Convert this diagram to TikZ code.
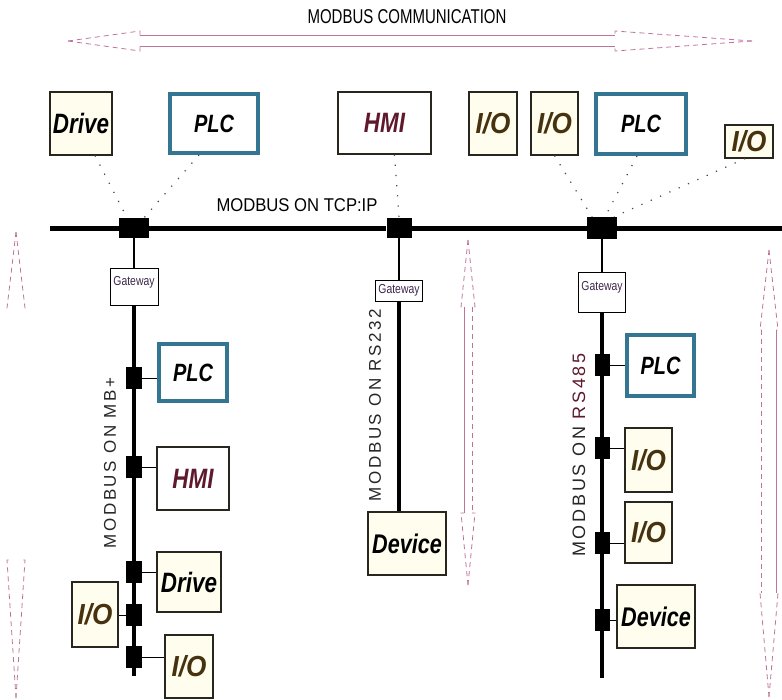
\documentclass[tikz,border=0pt]{standalone}
\usepackage{fontspec}
\setmainfont{Liberation Sans}
\newfontfamily\cond[FakeStretch=0.8]{Liberation Sans}
\newfontfamily\condw[FakeStretch=0.9]{Liberation Sans}
\newfontfamily\titlef[FakeStretch=0.75]{Liberation Sans}
\newfontfamily\semi[FakeStretch=0.9]{Liberation Sans}
\newfontfamily\spaced[LetterSpace=15]{Liberation Sans}
\definecolor{plcblue}{RGB}{52,118,145}
\definecolor{cream}{RGB}{255,253,238}
\definecolor{boxline}{RGB}{40,38,30}
\definecolor{hmitext}{RGB}{95,25,45}
\definecolor{iotext}{RGB}{70,50,15}
\definecolor{gwtext}{RGB}{60,40,75}
\definecolor{arrc}{RGB}{190,115,155}
% heads of a vertical double arrow
\newcommand\vheads[7]{%
 \draw[arrd] (#1,#2) -- (#1-#6,#3) -- (#1-#7,#3);
 \draw[arrd] (#1,#2) -- (#1+#6,#3) -- (#1+#7,#3);
 \draw[arrd] (#1,#5) -- (#1-#6,#4) -- (#1-#7,#4);
 \draw[arrd] (#1,#5) -- (#1+#6,#4) -- (#1+#7,#4);
}
% vertical double arrow, solid shaft line on side #8 (-1 left, 1 right)
\newcommand\vdblarrow[8]{%
 \vheads{#1}{#2}{#3}{#4}{#5}{#6}{#7}
 \draw[arr] (#1+#8*#7,#3) -- (#1+#8*#7,#4);
 \draw[arrd] (#1-#8*#7,#3) -- (#1-#8*#7,#4);
}
\newcommand\hdblarrow[7]{%
 \draw[arrd] (#2,#1) -- (#3,#1-#6) -- (#3,#1-#7);
 \draw[arrd] (#2,#1) -- (#3,#1+#6) -- (#3,#1+#7);
 \draw[arr] (#3,#1-#7) -- (#4,#1-#7);
 \draw[arr] (#3,#1+#7) -- (#4,#1+#7);
 \draw[arrd] (#5,#1) -- (#4,#1-#6) -- (#4,#1-#7);
 \draw[arrd] (#5,#1) -- (#4,#1+#6) -- (#4,#1+#7);
}
\tikzset{
 box/.style={draw=boxline, line width=1.1pt, fill=cream, inner sep=0pt,
   font=\cond\fontsize{28}{30}\selectfont\bfseries\itshape},
 plcbox/.style={draw=plcblue, line width=4pt, fill=white, inner sep=0pt,
   font=\cond\fontsize{25}{27}\selectfont\bfseries\itshape},
 hmibox/.style={box, fill=white, text=hmitext},
 iobox/.style={box, text=iotext, font=\condw\fontsize{29}{31}\selectfont\bfseries\itshape},
 devbox/.style={box, font=\cond\fontsize{27}{29}\selectfont\bfseries\itshape},
 gwbox/.style={draw=black, line width=0.9pt, fill=white, inner sep=0pt, text=gwtext,
   font=\cond\fontsize{13}{14}\selectfont},
 sw/.style={fill=black, draw=none, inner sep=0pt, minimum width=30pt, minimum height=20pt},
 tap/.style={fill=black, draw=none, inner sep=0pt, minimum width=16pt, minimum height=22pt},
 bus/.style={line width=5pt},
 fieldbus/.style={line width=4pt},
 drop/.style={line width=1.3pt},
 stub/.style={line width=1pt},
 dotline/.style={line width=1.2pt, gray!55!black, dash pattern=on 1.2pt off 9pt},
 arr/.style={draw=arrc, line width=0.8pt},
 arrd/.style={arr, dash pattern=on 5pt off 4pt},
 vlabel/.style={rotate=90, font=\spaced\fontsize{17}{18}\selectfont, text=black!85},
}
\begin{document}
\begin{tikzpicture}[x=1pt, y=-1pt]
\useasboundingbox (0,0) rectangle (782,699);

% title and communication arrow
\node[font=\titlef\fontsize{20}{22}\selectfont] (title) at (407,17) {MODBUS COMMUNICATION};
\hdblarrow{41}{68}{140}{615}{752}{10}{5.5}

% top devices
\node[box, minimum width=62, minimum height=63] (drive1) at (81,123.5) {Drive};
\node[plcbox, minimum width=88, minimum height=59] (plc1) at (214,123.5) {PLC};
\node[hmibox, minimum width=93, minimum height=62] (hmi1) at (384.5,123) {HMI};
\node[iobox, minimum width=48, minimum height=63] (io1) at (493,123.5) {I/O};
\node[iobox, minimum width=47, minimum height=63] (io2) at (554.5,123.5) {I/O};
\node[plcbox, minimum width=90, minimum height=60] (plc2) at (641,124) {PLC};
\node[iobox, minimum width=48, minimum height=33] (io3) at (749,141.5) {I/O};

% TCP/IP backbone
\node[sw] (sw1) at (134,228) {};
\node[sw, minimum width=25] (sw2) at (399,228) {};
\node[sw, minimum height=22] (sw3) at (602,228) {};
\coordinate (busL) at (50,228);
\coordinate (busR) at (782,228);
\draw[bus] (busL) -- (sw1) -- (sw2) -- (sw3) -- (busR);
\node[font=\semi\fontsize{18.5}{20}\selectfont] (tcp) at (297,205) {MODBUS ON TCP:IP};

% dotted links to backbone
\draw[dotline] ([xshift=14pt]drive1.south) -- ([xshift=-7pt]sw1.north);
\draw[dotline] ([xshift=-15pt]plc1.south) -- ([xshift=10pt]sw1.north);
\draw[dotline] ([xshift=10pt]hmi1.south) -- (sw2.north);
\draw[dotline] (io2.south) -- ([xshift=-10pt]sw3.north);
\draw[dotline] ([xshift=-4pt]plc2.south) -- ([xshift=3pt]sw3.north);
\draw[dotline] ([xshift=-4pt]io3.south) -- ([xshift=12pt]sw3.north);

% gateways
\node[gwbox, minimum width=48, minimum height=37, text depth=12pt] (gw1) at (134,287) {Gateway};
\node[gwbox, minimum width=47, minimum height=21] (gw2) at (399,290.5) {Gateway};
\node[gwbox, minimum width=47, minimum height=40, text depth=12pt] (gw3) at (602,292) {Gateway};
\draw[drop] (sw1) -- (gw1);
\draw[drop] (sw2) -- (gw2);
\draw[drop] (sw3) -- (gw3);

% left branch: MB+
\coordinate (endL) at (134,676);
\draw[fieldbus] (gw1) -- (endL);
\node[tap] (tL1) at (134,378) {};
\node[tap] (tL2) at (134,467) {};
\node[tap] (tL3) at (134,572) {};
\node[tap] (tL4) at (134,615) {};
\node[tap] (tL5) at (134,657) {};
\node[plcbox, minimum width=68, minimum height=57] (plcL) at (193,372.5) {PLC};
\node[hmibox, minimum width=72, minimum height=63] (hmiL) at (193,478.5) {HMI};
\node[box, minimum width=64, minimum height=60] (driveL) at (189,582) {Drive};
\node[iobox, minimum width=46, minimum height=65] (ioL1) at (95,614.5) {I/O};
\node[iobox, minimum width=48, minimum height=63] (ioL2) at (189,666.5) {I/O};
\draw[stub] (tL1) -- (tL1 -| plcL.west);
\draw[stub] (tL2) -- (tL2 -| hmiL.west);
\draw[stub] (tL3) -- (tL3 -| driveL.west);
\draw[stub] (tL4) -- (tL4 -| ioL1.east);
\draw[stub] (tL5) -- (tL5 -| ioL2.west);
\node[vlabel] (lblMB) at (110,463) {MODBUS ON MB+};

% middle branch: RS232
\node[devbox, minimum width=78, minimum height=63] (dev1) at (407,543.5) {Device};
\draw[fieldbus] (gw2) -- (gw2.south |- dev1.north);
\node[vlabel] (lbl232) at (375,405) {MODBUS ON RS232};

% right branch: RS485
\coordinate (endR) at (602,678);
\draw[fieldbus] (gw3) -- (endR);
\node[tap, minimum width=15] (tR1) at (602,365) {};
\node[tap, minimum width=15] (tR2) at (602,448) {};
\node[tap, minimum width=15] (tR3) at (602,543) {};
\node[tap, minimum width=15] (tR4) at (602,620) {};
\node[plcbox, minimum width=67, minimum height=61] (plcR) at (660.5,365.5) {PLC};
\node[iobox, minimum width=47, minimum height=64] (ioR1) at (648.5,460) {I/O};
\node[iobox, minimum width=47, minimum height=61] (ioR2) at (648.5,532.5) {I/O};
\node[devbox, minimum width=78, minimum height=63] (devR) at (656,616.5) {Device};
\draw[stub] (tR1) -- (tR1 -| plcR.west);
\draw[stub] (tR2) -- (tR2 -| ioR1.west);
\draw[stub] (tR3) -- (tR3 -| ioR2.west);
\draw[stub] (tR4) -- (tR4 -| devR.west);
\node[vlabel, font=\spaced\fontsize{18}{19}\selectfont] (lbl485) at (579,455) {MODBUS ON \textcolor{hmitext}{RS485}};

% vertical communication arrows
\vheads{16}{232}{308}{560}{698}{9}{5}
\vdblarrow{468}{240}{307}{513}{585}{7}{4}{-1}
\vdblarrow{769}{250}{330}{593}{697}{9}{7.5}{1}
\end{tikzpicture}
\end{document}
